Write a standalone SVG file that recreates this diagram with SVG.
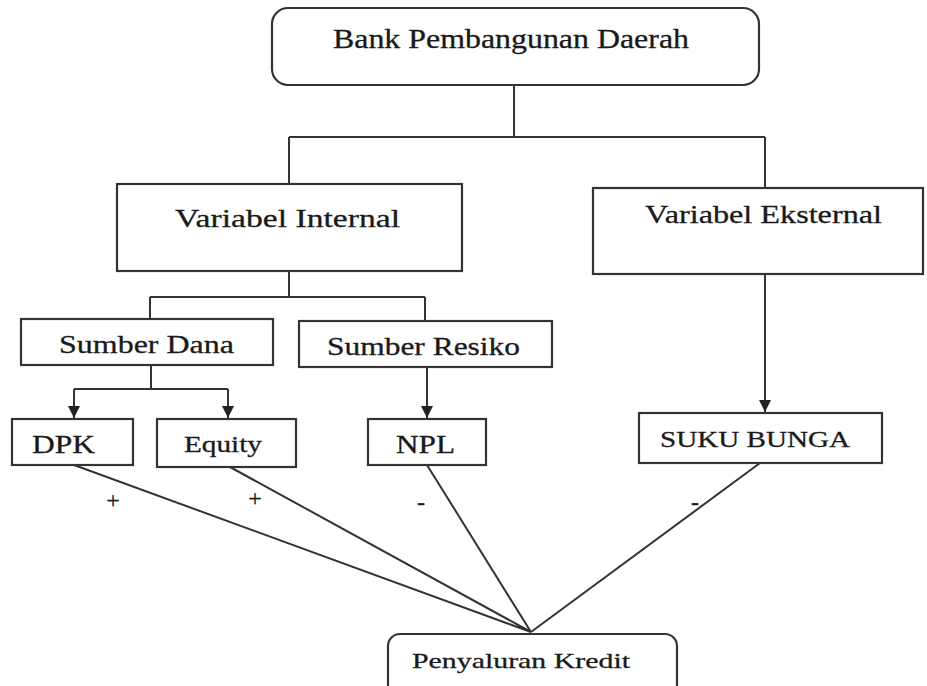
<svg xmlns="http://www.w3.org/2000/svg" width="927" height="686" viewBox="0 0 927 686">
<style>
.box{fill:#fff;stroke:#333;stroke-width:2.2}
.t{font-family:"Liberation Serif","Times New Roman",serif;fill:#1a1a1a;stroke:#1a1a1a;stroke-width:0.3}
.c{fill:none;stroke:#333;stroke-width:2}
</style>
<defs>
<marker id="ah" viewBox="0 0 10 10" refX="10" refY="5" markerWidth="12" markerHeight="12" markerUnits="userSpaceOnUse" orient="auto">
<path d="M0,0 L10,5 L0,10 Z" fill="#222"/>
</marker>
</defs>
<rect width="927" height="686" fill="#fff"/>
<g id="connectors">
<path class="c" d="M514,85 V137 M289,137 H765 M289,137 V184 M765,137 V188"/>
<path class="c" d="M289,271 V297 M150,297 H425 M150,297 V319 M425,297 V321"/>
<path class="c" d="M151,365 V389 M74,389 H228"/>
<path class="c" d="M74,389 V418" marker-end="url(#ah)"/>
<path class="c" d="M228,389 V418" marker-end="url(#ah)"/>
<path class="c" d="M427,367 V418" marker-end="url(#ah)"/>
<path class="c" d="M765,274 V412" marker-end="url(#ah)"/>
<path class="c" d="M74,465 L531,632 M230,467 L531,632 M427,465 L531,632 M760,463 L531,632"/>
</g>
<g id="bank"><rect class="box" x="272" y="8" width="487" height="77" rx="16"/>
<text class="t" x="333" y="48" font-size="27" textLength="356" lengthAdjust="spacingAndGlyphs">Bank Pembangunan Daerah</text></g>
<g id="internal"><rect class="box" x="117" y="184" width="345" height="87"/>
<text class="t" x="175" y="227" font-size="26" textLength="225" lengthAdjust="spacingAndGlyphs">Variabel  Internal</text></g>
<g id="eksternal"><rect class="box" x="593" y="188" width="330" height="86"/>
<text class="t" x="645" y="223" font-size="26" textLength="237" lengthAdjust="spacingAndGlyphs">Variabel Eksternal</text></g>
<g id="sumberdana"><rect class="box" x="21" y="319" width="252" height="46"/>
<text class="t" x="59" y="353" font-size="25" textLength="175" lengthAdjust="spacingAndGlyphs">Sumber Dana</text></g>
<g id="sumberresiko"><rect class="box" x="299" y="321" width="253" height="46"/>
<text class="t" x="327" y="355" font-size="25" textLength="193" lengthAdjust="spacingAndGlyphs">Sumber Resiko</text></g>
<g id="dpk"><rect class="box" x="12" y="419" width="121" height="46"/>
<text class="t" x="32" y="453" font-size="25" textLength="63" lengthAdjust="spacingAndGlyphs">DPK</text></g>
<g id="equity"><rect class="box" x="157" y="419" width="139" height="48"/>
<text class="t" x="184" y="452" font-size="23" textLength="78" lengthAdjust="spacingAndGlyphs">Equity</text></g>
<g id="npl"><rect class="box" x="368" y="419" width="118" height="46"/>
<text class="t" x="396" y="453" font-size="25" textLength="59" lengthAdjust="spacingAndGlyphs">NPL</text></g>
<g id="sukubunga"><rect class="box" x="639" y="413" width="243" height="50"/>
<text class="t" x="660" y="447" font-size="23" textLength="190" lengthAdjust="spacingAndGlyphs">SUKU BUNGA</text></g>
<g id="penyaluran"><rect class="box" x="388" y="634" width="289" height="70" rx="12"/>
<text class="t" x="412" y="668" font-size="22" textLength="218" lengthAdjust="spacingAndGlyphs">Penyaluran Kredit</text></g>
<g id="labels">
<text class="t" x="113" y="508" font-size="24" text-anchor="middle">+</text>
<text class="t" x="255" y="506" font-size="24" text-anchor="middle">+</text>
<text class="t" x="421" y="510" font-size="24" text-anchor="middle">-</text>
<text class="t" x="695" y="510" font-size="24" text-anchor="middle">-</text>
</g>
</svg>
